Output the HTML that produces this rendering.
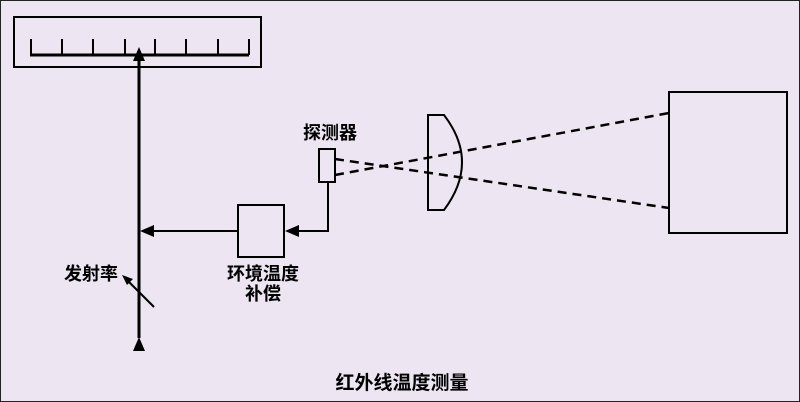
<!DOCTYPE html>
<html><head><meta charset="utf-8"><style>
body{margin:0;background:#ede5f1}
svg{display:block}
text{font-family:"Liberation Sans","Noto Sans CJK SC",sans-serif;font-weight:bold;font-size:18px;fill:#000}
</style></head><body>
<svg width="800" height="402" viewBox="0 0 800 402">
<rect x="0.5" y="0.5" width="799" height="401" fill="#ede5f1" stroke="#222" stroke-width="1"/>
<g stroke="#000" stroke-width="2" fill="none">
<rect x="14" y="17" width="247" height="50"/>
<line x1="30" y1="55" x2="249" y2="55" stroke-width="3"/>
<path d="M31 39V55M62 39V55M93 39V55M125 39V55M155 39V55M186 39V55M218 39V55M249 39V55"/>
<line x1="139" y1="60" x2="139" y2="338" stroke-width="3"/>
<rect x="238" y="205" width="46" height="52"/>
<line x1="150" y1="231" x2="238" y2="231"/>
<polyline points="297,231 328,231 328,182"/>
<rect x="319" y="149" width="16" height="33"/>
<path d="M428 115H444Q480 162 444 210H428Z"/>
<rect x="669" y="92" width="118" height="141"/>
<g stroke-dasharray="9,6" stroke-width="2.5">
<line x1="335" y1="159" x2="669" y2="208"/>
<line x1="335" y1="175" x2="669" y2="113"/>
</g>
<line x1="154" y1="307" x2="128" y2="281"/>
</g>
<g fill="#000">
<polygon points="139,47 133,61 145,61"/>
<polygon points="133,351 145,351 139,337"/>
<polygon points="140,231 154,225 154,237"/>
<polygon points="285,231 299,225 299,237"/>
<polygon points="122,275 133,279 127,285"/>
</g>
<text x="330" y="139" text-anchor="middle">探测器</text>
<text x="91" y="280" text-anchor="middle">发射率</text>
<text x="263" y="280" text-anchor="middle">环境温度</text>
<text x="263" y="300" text-anchor="middle">补偿</text>
<text x="402" y="389" text-anchor="middle" style="font-size:19px">红外线温度测量</text>
</svg>
</body></html>
